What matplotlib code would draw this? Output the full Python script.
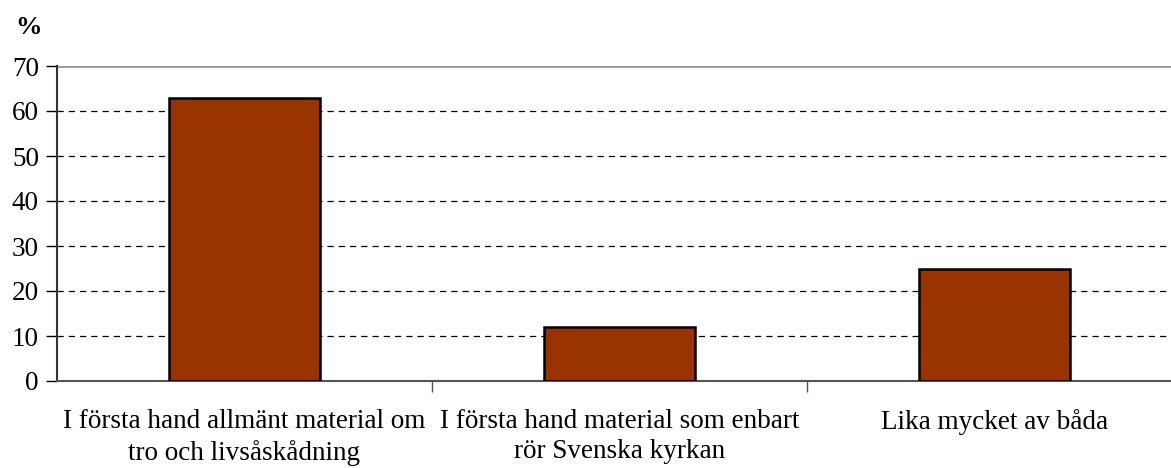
import matplotlib
matplotlib.use("Agg")
import matplotlib.pyplot as plt
import numpy as np

categories = [
    "I första hand allmänt material om\ntro och livsåskådning",
    "I första hand material som enbart\nrör Svenska kyrkan",
    "Lika mycket av båda",
]
values = [63, 12, 25]
yticks = [0, 10, 20, 30, 40, 50, 60, 70]

plt.rcParams['font.family'] = ['Liberation Serif', 'DejaVu Serif']

W, H = 1171, 468
fig = plt.figure(figsize=(W / 100, H / 100), dpi=100)
ax = fig.add_axes([57 / W, 1 - 381 / H, 1114 / W, 315 / H])

x = np.arange(len(categories))
ax.bar(x, values, width=0.403, color='#993300', edgecolor='black', linewidth=1.8, zorder=3)

ax.set_ylim(0, 70)
ax.set_xlim(-0.5, -0.5 + 1114 / 375)
ax.set_yticks(yticks)
ax.set_yticklabels([str(v) for v in yticks], fontsize=19.5)

# grid lines: dashed, top one solid grey
for v in yticks[1:-1]:
    ax.axhline(v, color='black', linestyle=(0, (5, 4)), linewidth=0.9, zorder=1)
ax.axhline(70, color='#999999', linewidth=2, zorder=1)

# category boundaries as x ticks, labels placed at centres
ax.set_xticks([0.5, 1.5])
ax.set_xticklabels([])
ax.set_xticks(x, minor=True)
ax.set_xticklabels(categories, minor=True, fontsize=19.5, linespacing=1.3)
ax.tick_params(axis='x', which='minor', length=0, pad=20)
ax.tick_params(axis='x', which='major', length=8, width=1, color='#555555')
ax.tick_params(axis='y', length=8, width=1, pad=5)

for s in ['top', 'right']:
    ax.spines[s].set_visible(False)
ax.spines['left'].set_color('#333333')
ax.spines['bottom'].set_color('#555555')
ax.spines['left'].set_linewidth(1.5)
ax.spines['bottom'].set_linewidth(1.5)

fig.text(29 / W, 1 - 28 / H, "%", fontsize=19, fontweight='bold', ha='center', va='center')

fig.savefig("out.png", dpi=100)
